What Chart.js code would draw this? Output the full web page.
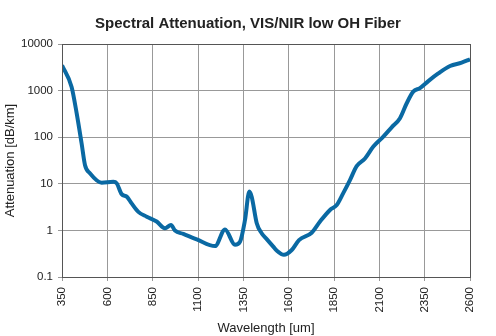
<!DOCTYPE html>
<html>
<head>
<meta charset="utf-8">
<script src="https://cdn.jsdelivr.net/npm/chart.js@4"></script>
<style>
  html, body { margin: 0; padding: 0; background: #fff; }
  #wrap { width: 496px; height: 336px; }
</style>
</head>
<body>
<div id="wrap"><canvas id="chart"></canvas></div>
<script>
// Wavelength [nm] and attenuation [dB/km]
const wavelength = [350, 403, 431, 458, 477, 504, 569, 633, 652, 679, 707, 734, 771, 817, 872, 918, 951, 973, 1019, 1093, 1194, 1249, 1304, 1332, 1359, 1383, 1396, 1424, 1451, 1479, 1515, 1534, 1574, 1617, 1657, 1727, 1773, 1828, 1865, 1901, 1938, 1975, 2021, 2067, 2122, 2168, 2214, 2251, 2287, 2324, 2370, 2425, 2490, 2554, 2600];
const attenuation = [3500, 1200, 325, 74, 25, 16.8, 10.5, 11, 10.2, 6.0, 5.3, 3.8, 2.5, 1.97, 1.55, 1.11, 1.31, 0.99, 0.84, 0.64, 0.46, 1.05, 0.49, 0.575, 1.66, 6.8, 5.3, 1.42, 0.87, 0.65, 0.45, 0.37, 0.30, 0.38, 0.62, 0.89, 1.55, 2.75, 3.5, 6.3, 12, 24, 35, 63, 103, 163, 256, 535, 950, 1130, 1600, 2330, 3370, 3980, 4700];
const yTicks = [0.1, 1, 10, 100, 1000, 10000];

const points = wavelength.map((w, i) => ({ x: w, y: attenuation[i] }));
const font = "Liberation Sans, Arial, sans-serif";

// frame round the plot area
const frame = {
  id: "frame",
  afterDatasetsDraw(chart) {
    const a = chart.chartArea;
    const ctx = chart.ctx;
    ctx.save();
    ctx.strokeStyle = "#555";
    ctx.lineWidth = 1;
    ctx.strokeRect(a.left + 0.5, a.top + 0.5, a.right - a.left, a.bottom - a.top);
    ctx.restore();
  }
};

new Chart(document.getElementById("chart"), {
  type: "line",
  data: {
    datasets: [{
      data: points,
      borderColor: "#0a69a3",
      borderWidth: 4,
      pointRadius: 0,
      fill: false,
      cubicInterpolationMode: "monotone"
    }]
  },
  options: {
    responsive: true,
    maintainAspectRatio: false,
    animation: false,
    plugins: {
      legend: { display: false },
      tooltip: { enabled: false },
      title: {
        display: true,
        text: "Spectral Attenuation, VIS/NIR low OH Fiber",
        color: "#222",
        font: { family: font, size: 15, weight: "bold" },
        padding: { top: 15, bottom: 11 }
      }
    },
    scales: {
      x: {
        type: "linear",
        min: 350,
        max: 2600,
        ticks: {
          stepSize: 250,
          minRotation: 90,
          maxRotation: 90,
          color: "#222",
          font: { family: font, size: 11.5 },
          callback: v => String(v),
          padding: 6
        },
        grid: { color: "#999", tickLength: 4 },
        border: { color: "#555" },
        title: {
          display: true,
          text: "Wavelength [um]",
          color: "#222",
          font: { family: font, size: 13 },
          padding: { top: 2, bottom: 0 }
        },
        afterFit(scale) { scale.height = 59; }
      },
      y: {
        type: "logarithmic",
        min: 0.1,
        max: 10000,
        afterBuildTicks(scale) {
          scale.ticks = yTicks.map(v => ({ value: v }));
        },
        ticks: {
          color: "#222",
          font: { family: font, size: 11.5 },
          callback: v => String(v),
          padding: 5
        },
        grid: { color: "#999", tickLength: 4 },
        border: { color: "#555" },
        title: {
          display: true,
          text: "Attenuation [dB/km]",
          color: "#222",
          font: { family: font, size: 13 },
          padding: { top: 3, bottom: 0 }
        },
        afterFit(scale) { scale.width = 62; }
      },
      // empty axis on the right, only to keep the margin
      yRight: {
        type: "linear",
        position: "right",
        display: true,
        grid: { display: false, drawTicks: false },
        border: { display: false },
        ticks: { display: false },
        afterFit(scale) { scale.width = 26; }
      }
    }
  },
  plugins: [frame]
});
</script>
</body>
</html>
